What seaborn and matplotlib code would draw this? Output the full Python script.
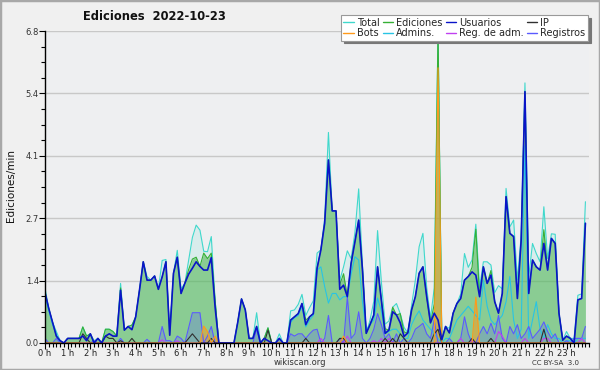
import numpy as np
import pandas as pd
import seaborn as sns
import matplotlib.pyplot as plt
from matplotlib.patches import Rectangle

# values in ediciones/min, one point every 10 minutes (6 per hour)
usuarios = [
    1.10, 0.75, 0.45, 0.15, 0.05, 0.00,
    0.10, 0.10, 0.10, 0.10, 0.15, 0.05,
    0.20, 0.00, 0.10, 0.00, 0.15, 0.20,
    0.15, 0.15, 1.15, 0.28, 0.36, 0.29,
    0.57, 1.15, 1.77, 1.37, 1.37, 1.46,
    1.17, 1.44, 1.77, 0.17, 1.52, 1.87,
    1.08, 1.30, 1.50, 1.63, 1.77, 1.67,
    1.59, 1.59, 1.86, 0.79, 0.00, 0.00,
    0.00, 0.00, 0.00, 0.45, 0.96, 0.72,
    0.10, 0.10, 0.36, 0.00, 0.10, 0.05,
    0.00, 0.00, 0.10, 0.00, 0.00, 0.50,
    0.57, 0.64, 0.86, 0.40, 0.57, 0.64,
    1.63, 2.03, 2.61, 3.99, 2.88, 2.88,
    1.17, 1.26, 1.01, 1.74, 2.20, 2.68,
    1.60, 0.21, 0.40, 0.61, 1.66, 0.94,
    0.21, 0.28, 0.68, 0.61, 0.44, 0.14,
    0.22, 0.72, 1.01, 1.52, 1.66, 1.01,
    0.44, 0.65, 0.50, 0.07, 0.36, 0.22,
    0.65, 0.86, 0.97, 1.37, 1.45, 1.55,
    1.48, 1.01, 1.66, 1.30, 1.48, 0.90,
    0.65, 1.08, 3.19, 2.39, 2.32, 0.97,
    2.24, 5.48, 1.08, 1.81, 1.66, 1.59,
    2.17, 1.59, 2.28, 2.17, 0.65, 0.06,
    0.15, 0.10, 0.00, 0.94, 0.97, 2.61,
]
ediciones = [
    1.10, 0.75, 0.45, 0.15, 0.05, 0.00,
    0.10, 0.10, 0.10, 0.10, 0.35, 0.15,
    0.20, 0.00, 0.10, 0.00, 0.30, 0.30,
    0.25, 0.15, 1.20, 0.28, 0.36, 0.39,
    0.57, 1.15, 1.77, 1.37, 1.37, 1.46,
    1.17, 1.44, 1.77, 0.17, 1.52, 1.87,
    1.08, 1.30, 1.60, 1.83, 1.87, 1.67,
    1.96, 1.84, 1.96, 0.94, 0.00, 0.00,
    0.00, 0.00, 0.00, 0.45, 0.96, 0.72,
    0.10, 0.10, 0.36, 0.00, 0.10, 0.33,
    0.00, 0.00, 0.10, 0.00, 0.00, 0.50,
    0.57, 0.64, 0.86, 0.50, 0.57, 0.64,
    1.63, 2.03, 2.61, 3.99, 2.88, 2.88,
    1.27, 1.51, 1.01, 1.74, 2.20, 2.68,
    1.60, 0.21, 0.40, 0.61, 1.66, 0.94,
    0.31, 0.28, 0.78, 0.61, 0.64, 0.24,
    0.22, 0.72, 1.01, 1.52, 1.66, 1.01,
    0.44, 0.85, 6.80, 0.07, 0.36, 0.22,
    0.65, 0.86, 0.97, 1.37, 1.45, 1.65,
    2.48, 1.01, 1.66, 1.30, 1.58, 0.90,
    0.65, 1.08, 3.19, 2.39, 2.32, 0.97,
    2.24, 5.48, 1.08, 1.81, 1.66, 1.59,
    2.47, 1.59, 2.28, 2.17, 0.65, 0.06,
    0.15, 0.10, 0.00, 0.94, 0.97, 2.61,
]
total = [
    1.20, 0.75, 0.45, 0.25, 0.05, 0.00,
    0.10, 0.10, 0.10, 0.10, 0.35, 0.15,
    0.20, 0.05, 0.10, 0.00, 0.30, 0.30,
    0.25, 0.15, 1.30, 0.28, 0.36, 0.39,
    0.57, 1.15, 1.77, 1.45, 1.37, 1.46,
    1.17, 1.80, 1.82, 0.22, 1.52, 2.02,
    1.18, 1.30, 1.80, 2.30, 2.57, 2.46,
    2.00, 1.99, 2.32, 0.94, 0.00, 0.00,
    0.00, 0.00, 0.00, 0.45, 0.96, 0.72,
    0.10, 0.10, 0.66, 0.00, 0.10, 0.33,
    0.00, 0.00, 0.20, 0.00, 0.00, 0.70,
    0.72, 0.84, 1.06, 0.60, 0.77, 0.92,
    1.96, 2.03, 2.71, 4.59, 2.88, 2.88,
    1.37, 1.66, 2.01, 1.84, 2.40, 3.36,
    1.70, 0.21, 0.50, 0.91, 2.45, 1.34,
    0.41, 0.48, 0.78, 0.86, 0.64, 0.34,
    0.22, 0.82, 1.37, 2.10, 2.39, 1.21,
    0.54, 1.20, 6.80, 0.07, 0.36, 0.32,
    0.65, 0.86, 1.07, 1.95, 1.65, 1.81,
    2.59, 1.21, 1.77, 1.77, 1.70, 1.10,
    1.25, 1.18, 3.37, 2.53, 2.68, 1.37,
    2.34, 5.67, 1.44, 2.17, 1.95, 1.77,
    2.97, 1.84, 2.38, 2.37, 0.65, 0.06,
    0.25, 0.10, 0.10, 1.04, 1.07, 3.08,
]
ip = [
    0, 0, 0, 0, 0, 0,
    0, 0, 0, 0, 0.2, 0.1,
    0, 0, 0, 0, 0.15, 0.1,
    0.1, 0, 0.05, 0, 0, 0.1,
    0, 0, 0, 0, 0, 0,
    0, 0, 0, 0, 0, 0,
    0, 0, 0.1, 0.2, 0.1, 0,
    0, 0, 0.1, 0, 0, 0,
    0, 0, 0, 0, 0, 0,
    0, 0, 0, 0, 0, 0.28,
    0, 0, 0, 0, 0, 0,
    0, 0, 0, 0.1, 0, 0,
    0, 0, 0, 0, 0, 0,
    0.1, 0.1, 0, 0, 0, 0,
    0, 0, 0, 0, 0, 0,
    0.1, 0, 0.1, 0, 0.2, 0.1,
    0, 0, 0, 0, 0, 0,
    0, 0.2, 0.3, 0, 0, 0,
    0, 0, 0, 0, 0, 0.1,
    0, 0, 0, 0, 0.1, 0,
    0, 0, 0, 0, 0, 0,
    0, 0, 0, 0, 0, 0,
    0.3, 0, 0, 0, 0, 0,
    0, 0, 0, 0, 0, 0,
]
bots = [0.0] * 144
bots[42] = 0.37
bots[43] = 0.25
bots[45] = 0.15
bots[79] = 0.15
bots[104] = 6.0
bots[114] = 1.0
admins = [
    1.05, 0.70, 0.40, 0.20, 0, 0,
    0, 0, 0, 0, 0, 0,
    0, 0, 0, 0, 0, 0,
    0, 0, 0, 0, 0, 0,
    0, 0, 0, 0, 0, 0,
    0, 0, 0, 0, 0, 0,
    0, 0, 0, 0, 0, 0,
    0, 0, 0, 0, 0, 0,
    0, 0, 0, 0, 0, 0,
    0, 0, 0, 0, 0, 0,
    0, 0, 0, 0, 0, 0.45,
    0.55, 0.60, 0.80, 0.35, 0.50, 0.60,
    1.59, 1.66, 1.23, 0.87, 1.08, 1.08,
    0.94, 1.01, 1.01, 1.50, 1.88, 1.81,
    0.90, 0.28, 0.40, 0.50, 0.98, 0.70,
    0.21, 0.25, 0.30, 0.30, 0.20, 0.10,
    0.10, 0.40, 0.57, 0.70, 0.50, 0.40,
    0.30, 0.20, 0.10, 0.00, 0.10, 0.10,
    0.30, 0.50, 0.60, 0.70, 0.80, 0.70,
    0.60, 0.50, 1.37, 0.80, 0.50, 0.40,
    0.50, 0.60, 0.90, 1.45, 0.50, 0.10,
    0.30, 4.30, 0.10, 0.50, 0.90, 0.30,
    0.10, 0.40, 0.20, 0.10, 0.10, 0.00,
    0.05, 0.05, 0.00, 0.10, 0.10, 0.10,
]
registros = [
    0.10, 0, 0, 0.10, 0, 0,
    0, 0, 0, 0, 0, 0,
    0, 0.05, 0, 0, 0, 0,
    0, 0, 0.10, 0, 0, 0,
    0, 0, 0, 0.08, 0, 0,
    0, 0.36, 0.05, 0.05, 0, 0.15,
    0.10, 0, 0.33, 0.66, 0.66, 0.66,
    0, 0.15, 0.36, 0, 0, 0,
    0, 0, 0, 0, 0, 0,
    0, 0, 0.30, 0, 0, 0,
    0, 0, 0.10, 0, 0, 0.20,
    0.15, 0.20, 0.20, 0.10, 0.20, 0.28,
    0.30, 0, 0.10, 0.60, 0, 0,
    0.10, 0, 1.00, 0.10, 0.20, 0.68,
    0.10, 0, 0.10, 0.30, 0.64, 0.40,
    0.10, 0.20, 0, 0.20, 0, 0.10,
    0, 0.10, 0.30, 0.36, 0.43, 0.20,
    0.10, 0.50, 0, 0, 0, 0.10,
    0, 0, 0.10, 0.57, 0.20, 0,
    0, 0.20, 0.36, 0.20, 0.43, 0.20,
    0.60, 0.10, 0, 0.36, 0.20, 0.40,
    0.10, 0.20, 0.36, 0.10, 0.20, 0.30,
    0.46, 0.25, 0.10, 0.20, 0, 0,
    0.05, 0, 0.10, 0.10, 0.10, 0.36,
]
reg_adm = [0.0] * 144
for k, v in {31: 0.07, 35: 0.05, 73: 0.1, 80: 0.15, 87: 0.05, 89: 0.1, 91: 0.1,
             110: 0.1, 113: 0.05, 120: 0.25, 121: 0.15, 127: 0.1, 132: 0.1,
             133: 0.1, 142: 0.1}.items():
    reg_adm[k] = v

hours = np.arange(144) / 6
df = pd.DataFrame({
    'hora': hours, 'Total': total, 'Ediciones': ediciones, 'Usuarios': usuarios,
    'IP': ip, 'Bots': bots, 'Admins.': admins, 'Reg. de adm.': reg_adm,
    'Registros': registros,
})

colors = {
    'Total': '#3fd8cc', 'Ediciones': '#35b035', 'Usuarios': '#0a14c8',
    'IP': '#303030', 'Bots': '#ff9a1a', 'Admins.': '#28c4e4',
    'Reg. de adm.': '#c040f0', 'Registros': '#5a5aff',
}

sns.set_theme(style='white')
plt.rcParams['font.family'] = ['DejaVu Sans']

fig = plt.figure(figsize=(6, 3.7), dpi=100, facecolor='#f0f0f0')
ax = fig.add_axes([0.075, 0.073, 0.907, 0.843])
ax.set_facecolor('#eeeff1')

ax.fill_between(df['hora'], df['Total'], color='#9ee6e0', alpha=0.25, lw=0)
ax.fill_between(df['hora'], df['Ediciones'], color='#3cae3c', alpha=0.5, lw=0)
ax.fill_between(df['hora'], df['Registros'], color='#5a5aff', alpha=0.25, lw=0)
ax.fill_between(df['hora'], df['Bots'], color='#ff9a1a', alpha=0.5, lw=0)

draw_order = ['Total', 'Ediciones', 'Admins.', 'Registros', 'Reg. de adm.', 'IP', 'Bots', 'Usuarios']
widths = {'Usuarios': 1.2}
for name in draw_order:
    sns.lineplot(data=df, x='hora', y=name, ax=ax, color=colors[name],
                 lw=widths.get(name, 0.8), label=name, legend=False)

ax.set_xlim(0, 24)
ax.set_ylim(0, 6.8)
ax.set_xlabel('')
ax.set_ylabel('')
fig.text(0.018, 0.5, 'Ediciones/min', rotation=90, ha='center', va='center',
         fontsize=7.5, color='#111111')

yt = [0, 1.36, 2.72, 4.08, 5.44, 6.8]
ax.set_yticks(yt)
ax.set_yticklabels(['0.0', '1.4', '2.7', '4.1', '5.4', '6.8'], fontsize=6, color='#333333')
ax.set_yticks(np.arange(0, 6.81, 0.34), minor=True)
ax.set_xticks(range(24))
ax.set_xticklabels([f'{h} h' for h in range(24)], fontsize=6, color='#222222')
ax.set_xticks(np.arange(0, 24.01, 1 / 6), minor=True)
ax.tick_params(axis='both', which='major', direction='out', length=4, width=0.8,
               color='black', pad=0.5, left=True, bottom=True)
ax.tick_params(axis='both', which='minor', direction='out', length=3, width=0.8,
               color='black', left=True, bottom=True)
ax.grid(axis='y', which='major', color='#c8c8c8', lw=1)
ax.set_axisbelow(True)
for side in ['top', 'right']:
    ax.spines[side].set_visible(False)
for side in ['left', 'bottom']:
    ax.spines[side].set_color('black')
    ax.spines[side].set_linewidth(1)

handles, labels = ax.get_legend_handles_labels()
lookup = dict(zip(labels, handles))
order = ['Total', 'Bots', 'Ediciones', 'Admins.', 'Usuarios', 'Reg. de adm.', 'IP', 'Registros']
leg = fig.legend([lookup[k] for k in order], order, ncol=4, loc='upper right',
                 bbox_to_anchor=(0.988, 0.972), fontsize=7, frameon=True,
                 fancybox=False, shadow={'color': '#777777', 'alpha': 1},
                 handlelength=1.1, handletextpad=0.3, columnspacing=0.3,
                 labelspacing=0.05, borderpad=0.25, framealpha=1)
leg.get_frame().set_edgecolor('#999999')
leg.get_frame().set_linewidth(0.8)
for line in leg.get_lines():
    line.set_linewidth(1)

fig.text(0.257, 0.955, 'Ediciones  2022-10-23', ha='center', va='center',
         fontsize=8.3, fontweight='bold', color='#111111')
fig.text(0.5, 0.02, 'wikiscan.org', ha='center', va='center', fontsize=6, color='#333333')
fig.text(0.965, 0.02, 'CC BY-SA  3.0', ha='right', va='center', fontsize=5, color='#333333')
fig.patches.append(Rectangle((0, 0), 1, 1, transform=fig.transFigure, fill=False,
                             edgecolor='#a8a8a8', lw=2.5))

fig.savefig('out.png', dpi=100, facecolor=fig.get_facecolor())
